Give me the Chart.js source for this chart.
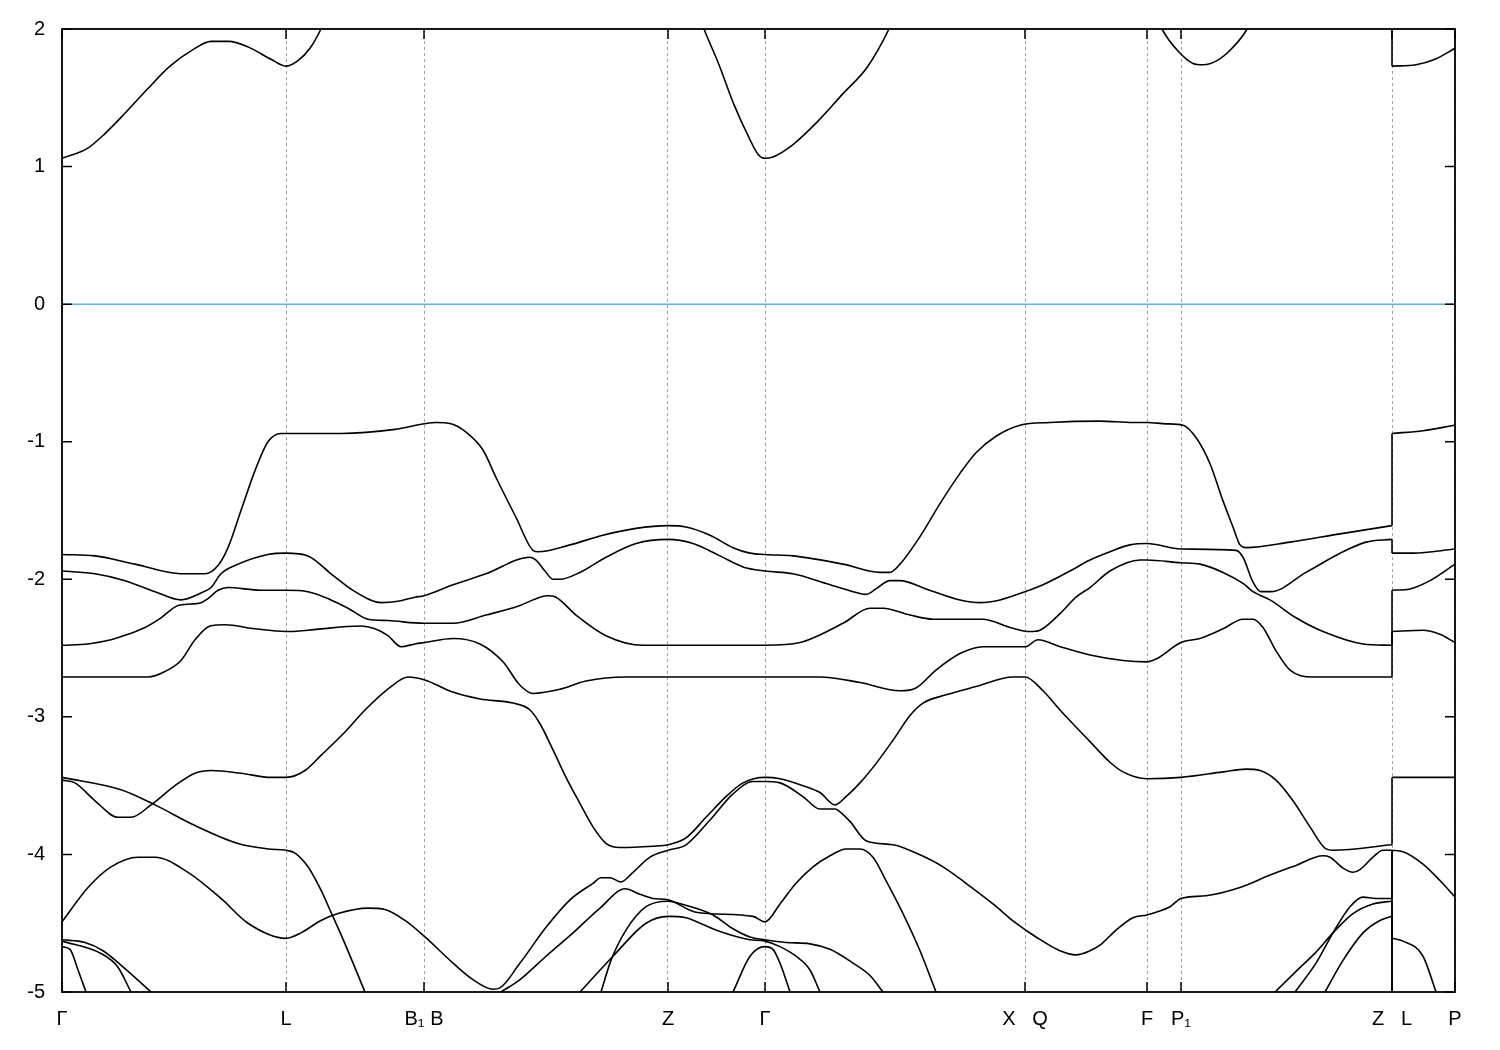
<!DOCTYPE html>
<html>
<head>
<meta charset="utf-8">
<title>Band structure</title>
<script src="https://cdn.jsdelivr.net/npm/chart.js@4.4.0/dist/chart.umd.min.js"></script>
<style>
  html, body { margin: 0; padding: 0; background: #fff; }
  canvas { display: block; }
</style>
</head>
<body>
<canvas id="bands" width="1500" height="1050"></canvas>
<script>
// high-symmetry points along the k-path
const kTicks = [0, 2.24, 3.62, 6.06, 7.03, 9.63, 10.85, 11.19, 13.30, 13.93];
const kLabels = ['Γ', 'L', 'B₁ B', 'Z', 'Γ', 'X   Q', 'F', 'P₁', 'Z   L', 'P'];
const energyMin = -5;
const energyMax = 2;
const fermiLevel = 0;

// bands: [k, E] pairs. two points with the same k = jump at the Z|L break
const bandC = [[0,1.06],[0.25,1.13],[0.43,1.24],[0.62,1.38],[0.85,1.56],[1.08,1.73],[1.31,1.85],[1.49,1.91],[1.67,1.91],[1.86,1.87],[2.09,1.78],[2.24,1.73],[2.36,1.77],[2.48,1.86],[2.59,2.00],[2.66,2.12],
  [6.36,2.12],[6.42,2.00],[6.57,1.74],[6.72,1.45],[6.87,1.21],[6.96,1.09],[7.03,1.06],[7.11,1.07],[7.31,1.16],[7.56,1.33],[7.81,1.53],[8.05,1.72],[8.27,2.00],[8.34,2.12],
  [10.93,2.12],[11.00,2.00],[11.16,1.84],[11.31,1.75],[11.41,1.74],[11.55,1.77],[11.70,1.86],[11.85,2.00],[11.92,2.12],[13.30,2.12],
  [13.30,1.73],[13.54,1.74],[13.73,1.78],[13.93,1.86]];

const bandV1 = [[0,-1.82],[0.33,-1.83],[0.73,-1.89],[1.19,-1.96],[1.43,-1.96],[1.56,-1.90],[1.66,-1.77],[1.79,-1.50],[1.93,-1.21],[2.06,-1.00],[2.19,-0.94],[2.24,-0.94],[2.79,-0.94],[3.33,-0.91],[3.62,-0.87],[3.74,-0.86],[3.89,-0.87],[4.04,-0.93],[4.21,-1.06],[4.34,-1.26],[4.54,-1.55],[4.71,-1.79],[4.76,-1.80],[5.08,-1.75],[5.41,-1.68],[5.74,-1.63],[6.06,-1.61],[6.24,-1.62],[6.48,-1.68],[6.71,-1.77],[6.88,-1.81],[7.03,-1.82],[7.31,-1.83],[7.81,-1.89],[8.18,-1.95],[8.28,-1.95],[8.38,-1.89],[8.58,-1.69],[8.78,-1.45],[8.98,-1.23],[9.14,-1.08],[9.34,-0.96],[9.58,-0.88],[9.88,-0.86],[10.38,-0.85],[10.71,-0.86],[10.85,-0.86],[11.04,-0.87],[11.21,-0.88],[11.34,-0.97],[11.48,-1.16],[11.61,-1.43],[11.71,-1.62],[11.78,-1.75],[11.84,-1.77],[12.28,-1.73],[12.78,-1.67],[13.30,-1.61],
  [13.30,-0.94],[13.61,-0.92],[13.93,-0.88]];

const bandV2 = [[0,-1.94],[0.33,-1.96],[0.63,-2.01],[0.93,-2.09],[1.19,-2.15],[1.39,-2.10],[1.49,-2.06],[1.59,-1.96],[1.73,-1.90],[2.06,-1.82],[2.24,-1.81],[2.46,-1.83],[2.69,-1.96],[2.93,-2.09],[3.19,-2.17],[3.36,-2.16],[3.53,-2.13],[3.62,-2.12],[3.91,-2.04],[4.24,-1.96],[4.68,-1.84],[4.74,-1.86],[4.83,-1.94],[4.91,-2.00],[4.98,-2.00],[5.18,-1.95],[5.44,-1.84],[5.74,-1.74],[6.06,-1.71],[6.31,-1.74],[6.58,-1.83],[6.81,-1.91],[7.03,-1.94],[7.31,-1.96],[7.64,-2.03],[7.91,-2.09],[8.04,-2.11],[8.14,-2.07],[8.28,-2.01],[8.38,-2.01],[8.64,-2.07],[8.98,-2.15],[9.18,-2.17],[9.38,-2.15],[9.63,-2.09],[9.81,-2.04],[10.08,-1.94],[10.28,-1.86],[10.48,-1.80],[10.68,-1.75],[10.85,-1.74],[11.19,-1.78],[11.74,-1.79],[11.81,-1.84],[11.91,-2.02],[11.99,-2.09],[12.09,-2.09],[12.44,-1.95],[12.81,-1.80],[13.04,-1.73],[13.30,-1.71],
  [13.30,-1.81],[13.51,-1.81],[13.93,-1.78]];

const bandV3 = [[0,-2.48],[0.26,-2.47],[0.49,-2.44],[0.66,-2.40],[0.83,-2.35],[0.99,-2.28],[1.16,-2.19],[1.29,-2.18],[1.39,-2.17],[1.46,-2.14],[1.56,-2.08],[1.66,-2.06],[1.99,-2.08],[2.24,-2.08],[2.46,-2.09],[2.69,-2.15],[2.86,-2.21],[3.06,-2.29],[3.26,-2.30],[3.62,-2.32],[3.91,-2.32],[4.24,-2.26],[4.58,-2.19],[4.78,-2.13],[4.86,-2.12],[4.94,-2.13],[5.14,-2.26],[5.44,-2.41],[5.81,-2.48],[6.06,-2.48],[7.03,-2.48],[7.38,-2.46],[7.81,-2.32],[8.08,-2.21],[8.21,-2.21],[8.48,-2.26],[8.71,-2.29],[9.21,-2.29],[9.48,-2.35],[9.68,-2.38],[9.78,-2.37],[9.98,-2.25],[10.14,-2.13],[10.28,-2.06],[10.48,-1.94],[10.78,-1.86],[10.85,-1.86],[11.19,-1.88],[11.38,-1.89],[11.61,-1.95],[11.81,-2.03],[11.91,-2.09],[12.08,-2.15],[12.34,-2.28],[12.61,-2.38],[13.01,-2.47],[13.30,-2.48],
  [13.30,-2.08],[13.48,-2.07],[13.68,-2.01],[13.93,-1.89]];

const bandV4 = [[0,-2.71],[0.63,-2.71],[0.86,-2.71],[1.03,-2.67],[1.19,-2.59],[1.33,-2.44],[1.48,-2.34],[1.63,-2.33],[1.93,-2.36],[2.24,-2.38],[2.46,-2.37],[2.99,-2.34],[3.13,-2.36],[3.26,-2.41],[3.39,-2.49],[3.53,-2.47],[3.62,-2.46],[3.91,-2.43],[4.18,-2.47],[4.41,-2.60],[4.58,-2.77],[4.71,-2.83],[4.98,-2.80],[5.24,-2.74],[5.64,-2.71],[6.06,-2.71],[7.03,-2.71],[7.58,-2.71],[7.98,-2.75],[8.38,-2.81],[8.54,-2.79],[8.74,-2.66],[8.98,-2.54],[9.21,-2.49],[9.63,-2.49],[9.76,-2.44],[9.98,-2.49],[10.28,-2.55],[10.61,-2.59],[10.85,-2.60],[10.94,-2.58],[11.19,-2.46],[11.38,-2.43],[11.61,-2.36],[11.81,-2.29],[11.91,-2.29],[12.01,-2.35],[12.14,-2.52],[12.28,-2.66],[12.51,-2.71],[12.88,-2.71],[13.30,-2.71],
  [13.30,-2.38],[13.61,-2.37],[13.78,-2.40],[13.93,-2.46]];

const bandV5 = [[0,-3.44],[0.59,-3.53],[0.93,-3.64],[1.33,-3.79],[1.76,-3.92],[2.06,-3.96],[2.24,-3.97],[2.33,-3.99],[2.46,-4.09],[2.59,-4.26],[2.69,-4.42],[2.83,-4.65],[3.03,-5.00],[3.10,-5.12]];

const bandV6 = [[0,-3.46],[0.13,-3.48],[0.33,-3.61],[0.56,-3.73],[0.69,-3.73],[0.89,-3.64],[1.13,-3.50],[1.33,-3.41],[1.49,-3.39],[1.79,-3.41],[2.09,-3.44],[2.24,-3.44],[2.43,-3.39],[2.59,-3.28],[2.83,-3.11],[3.03,-2.95],[3.29,-2.78],[3.46,-2.71],[3.62,-2.73],[3.91,-2.82],[4.18,-2.87],[4.51,-2.90],[4.68,-2.95],[4.78,-3.05],[4.91,-3.24],[5.04,-3.44],[5.18,-3.63],[5.31,-3.80],[5.44,-3.92],[5.58,-3.95],[5.91,-3.94],[6.06,-3.93],[6.24,-3.88],[6.44,-3.73],[6.64,-3.58],[6.81,-3.48],[7.03,-3.44],[7.18,-3.45],[7.41,-3.50],[7.58,-3.55],[7.73,-3.64],[7.84,-3.58],[7.98,-3.48],[8.14,-3.34],[8.31,-3.17],[8.48,-2.99],[8.61,-2.90],[8.84,-2.84],[9.14,-2.78],[9.51,-2.71],[9.63,-2.71],[9.81,-2.81],[9.98,-2.95],[10.28,-3.18],[10.48,-3.33],[10.61,-3.40],[10.85,-3.45],[11.19,-3.44],[11.61,-3.40],[11.84,-3.38],[11.98,-3.39],[12.14,-3.46],[12.31,-3.61],[12.48,-3.80],[12.64,-3.96],[12.71,-3.97],[13.30,-3.93],
  [13.30,-3.44],[13.93,-3.44]];

const bandT = [[0,-4.49],[0.26,-4.24],[0.49,-4.09],[0.76,-4.02],[0.93,-4.02],[1.26,-4.13],[1.59,-4.32],[1.86,-4.50],[2.24,-4.61],[2.39,-4.57],[2.59,-4.48],[2.76,-4.43],[3.06,-4.39],[3.23,-4.40],[3.43,-4.48],[3.63,-4.60],[3.91,-4.79],[4.11,-4.91],[4.31,-4.98],[4.38,-4.97],[4.58,-4.79],[4.84,-4.53],[5.08,-4.33],[5.31,-4.21],[5.39,-4.17],[5.48,-4.17],[5.59,-4.20],[5.71,-4.13],[5.88,-4.02],[6.06,-3.97],[6.24,-3.93],[6.48,-3.75],[6.71,-3.56],[6.91,-3.47],[7.03,-3.47],[7.18,-3.48],[7.41,-3.58],[7.58,-3.67],[7.73,-3.67],[7.78,-3.69],[7.88,-3.76],[8.04,-3.90],[8.31,-3.93],[8.54,-3.99],[8.81,-4.09],[9.04,-4.21],[9.31,-4.36],[9.54,-4.50],[9.74,-4.60],[9.98,-4.70],[10.14,-4.73],[10.28,-4.70],[10.38,-4.66],[10.54,-4.55],[10.71,-4.46],[10.85,-4.44],[10.94,-4.42],[11.08,-4.38],[11.19,-4.32],[11.44,-4.30],[11.78,-4.24],[12.08,-4.15],[12.34,-4.08],[12.61,-4.01],[12.68,-4.02],[12.81,-4.10],[12.91,-4.13],[12.98,-4.11],[13.11,-4.02],[13.21,-3.97],[13.30,-3.97],
  [13.30,-4.61],[13.41,-4.63],[13.61,-4.74],[13.74,-5.00],[13.80,-5.12]];

const bandP = [[4.20,-5.09],[4.39,-5.00],[4.58,-4.91],[4.84,-4.74],[5.11,-4.57],[5.38,-4.39],[5.63,-4.25],[5.78,-4.29],[5.91,-4.32],[6.06,-4.33],[6.34,-4.42],[6.91,-4.45],[7.03,-4.49],[7.18,-4.36],[7.34,-4.21],[7.51,-4.09],[7.68,-4.01],[7.84,-3.96],[7.98,-3.96],[8.11,-4.02],[8.24,-4.19],[8.41,-4.43],[8.58,-4.70],[8.74,-5.00],[8.80,-5.11]];
const bandQ = [[5.34,-5.12],[5.39,-5.00],[5.49,-4.77],[5.64,-4.55],[5.84,-4.38],[6.06,-4.34],[6.24,-4.37],[6.51,-4.44],[6.71,-4.54],[6.88,-4.60],[7.03,-4.62],[7.24,-4.64],[7.48,-4.65],[7.68,-4.69],[7.91,-4.79],[8.08,-4.88],[8.21,-5.00],[8.31,-5.09]];
const bandR = [[5.08,-5.08],[5.18,-5.00],[5.51,-4.74],[5.84,-4.50],[6.06,-4.45],[6.24,-4.46],[6.41,-4.51],[6.58,-4.56],[6.88,-4.62],[7.03,-4.63],[7.18,-4.67],[7.34,-4.74],[7.48,-4.84],[7.58,-5.00],[7.65,-5.11]];
const bandS = [[6.63,-5.12],[6.71,-5.00],[6.88,-4.74],[7.03,-4.67],[7.11,-4.69],[7.18,-4.79],[7.28,-5.00],[7.34,-5.13]];

const bandL1 = [[0,-4.62],[0.23,-4.64],[0.41,-4.70],[0.63,-4.83],[0.89,-5.00],[1.05,-5.10]];
const bandL2 = [[0,-4.63],[0.39,-4.72],[0.56,-4.82],[0.69,-5.00],[0.78,-5.12]];
const bandL3 = [[0,-4.67],[0.08,-4.69],[0.16,-4.84],[0.24,-5.00],[0.30,-5.12]];

const bandLA = [[11.98,-5.11],[12.13,-5.00],[12.34,-4.85],[12.54,-4.71],[12.71,-4.57],[12.91,-4.43],[13.11,-4.36],[13.30,-4.34],[13.30,-5.30]];
const bandLB = [[12.21,-5.12],[12.33,-5.00],[12.54,-4.79],[12.71,-4.57],[12.88,-4.38],[13.01,-4.31],[13.14,-4.32],[13.30,-4.32],
  [13.30,-3.97],[13.41,-3.98],[13.61,-4.07],[13.78,-4.19],[13.93,-4.31]];
const bandLC = [[12.54,-5.12],[12.63,-5.00],[12.81,-4.77],[13.01,-4.57],[13.18,-4.48],[13.30,-4.45],[13.30,-5.30]];

const bands = [bandC, bandV1, bandV2, bandV3, bandV4, bandV5, bandV6, bandT, bandP, bandQ, bandR, bandS,
  bandL1, bandL2, bandL3, bandLA, bandLB, bandLC];

// cut a band where k repeats; the jump itself becomes a straight 2-point piece
function splitAtJumps(band) {
  const pieces = [{ pts: [band[0]], jump: false }];
  for (let i = 1; i < band.length; i++) {
    const prev = band[i - 1], p = band[i];
    if (p[0] === prev[0]) {
      pieces.push({ pts: [prev, p], jump: true });
      pieces.push({ pts: [p], jump: false });
    } else {
      pieces[pieces.length - 1].pts.push(p);
    }
  }
  return pieces.filter(pc => pc.pts.length > 1);
}

const datasets = [];
bands.forEach(band => {
  splitAtJumps(band).forEach(pc => {
    datasets.push({
      data: pc.pts.map(p => ({ x: p[0], y: p[1] })),
      borderColor: '#000',
      borderWidth: 1.6,
      pointRadius: 0,
      fill: false,
      clip: 0,
      tension: 0,
      cubicInterpolationMode: pc.jump ? 'default' : 'monotone'
    });
  });
});
datasets.push({
  data: [{ x: kTicks[0], y: fermiLevel }, { x: kTicks[kTicks.length - 1], y: fermiLevel }],
  borderColor: '#56b4e9',
  borderWidth: 1.5,
  pointRadius: 0,
  fill: false,
  clip: 0
});

// black frame plus inward ticks on all four sides, gnuplot style
const frameTicks = {
  id: 'frameTicks',
  afterDraw(chart) {
    const { ctx, chartArea: a, scales: { x, y } } = chart;
    ctx.save();
    ctx.strokeStyle = '#000';
    ctx.lineWidth = 1.5;
    ctx.beginPath();
    y.ticks.forEach(t => {
      const py = y.getPixelForValue(t.value);
      ctx.moveTo(a.left, py); ctx.lineTo(a.left + 10, py);
      ctx.moveTo(a.right, py); ctx.lineTo(a.right - 10, py);
    });
    kTicks.forEach(k => {
      const px = x.getPixelForValue(k);
      ctx.moveTo(px, a.bottom); ctx.lineTo(px, a.bottom - 10);
      ctx.moveTo(px, a.top); ctx.lineTo(px, a.top + 10);
    });
    ctx.stroke();
    ctx.lineWidth = 1.8;
    ctx.strokeRect(a.left, a.top, a.right - a.left, a.bottom - a.top);
    ctx.restore();
  }
};

Chart.defaults.font.family = '"Liberation Sans", Arial, sans-serif';
Chart.defaults.font.size = 20;
Chart.defaults.color = '#000';

new Chart(document.getElementById('bands'), {
  type: 'line',
  data: { datasets },
  options: {
    responsive: false,
    animation: false,
    parsing: false,
    normalized: true,
    layout: { padding: { left: 0, top: 28, right: 45, bottom: 0 } },
    plugins: { legend: { display: false }, tooltip: { enabled: false } },
    scales: {
      x: {
        type: 'linear',
        min: kTicks[0],
        max: kTicks[kTicks.length - 1],
        afterBuildTicks: scale => { scale.ticks = kTicks.map(v => ({ value: v })); },
        afterFit: scale => { scale.height = 58; },
        ticks: {
          autoSkip: false,
          maxRotation: 0,
          minRotation: 0,
          padding: 15,
          callback: (value, index) => kLabels[index]
        },
        grid: { color: '#a0a0a0', lineWidth: 1, drawTicks: false },
        border: { display: false, dash: [3, 3] }
      },
      y: {
        min: energyMin,
        max: energyMax,
        afterFit: scale => { scale.width = 62; },
        ticks: { stepSize: 1, padding: 17 },
        grid: { display: false, drawTicks: false },
        border: { display: false }
      }
    }
  },
  plugins: [frameTicks]
});
</script>
</body>
</html>
